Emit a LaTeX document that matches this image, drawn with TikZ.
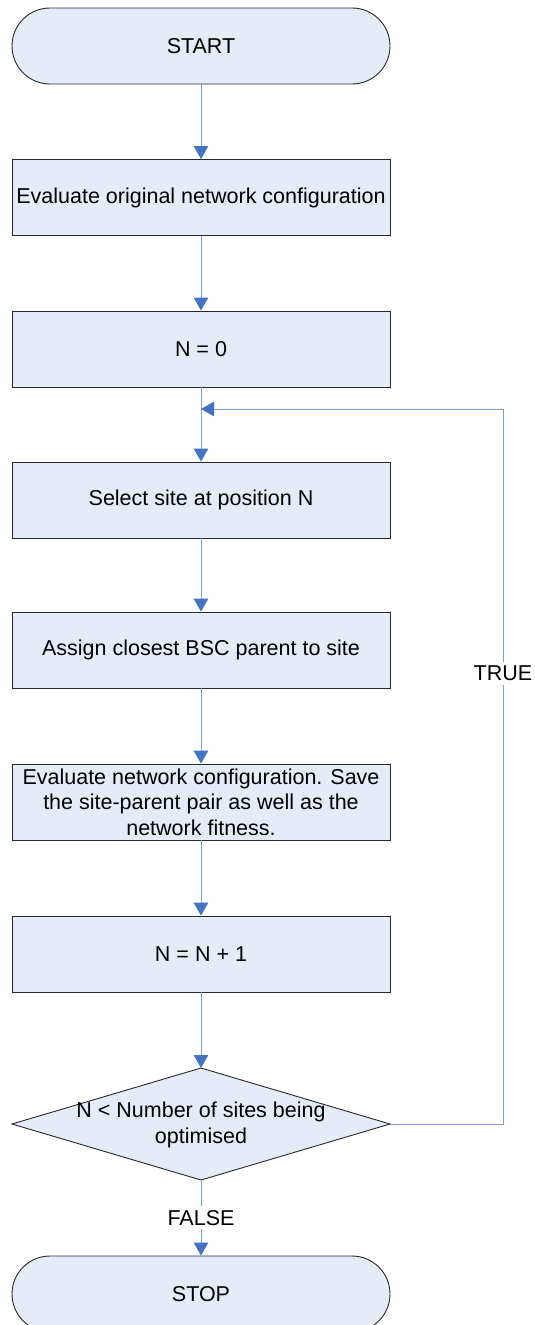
\documentclass[tikz,border=0pt]{standalone}
\usepackage{fontspec}
\setmainfont{Liberation Sans}
\usetikzlibrary{arrows.meta}
\definecolor{boxfill}{RGB}{230,236,247}
\definecolor{boxline}{RGB}{40,40,40}
\definecolor{flowline}{RGB}{125,158,212}
\definecolor{tipblue}{RGB}{68,114,196}
\tikzset{
  txt/.style={font=\fontsize{21.5}{25.5}\selectfont, text=black},
  procbox/.style={txt, draw=boxline, fill=boxfill, line width=0.9pt,
    minimum width=378pt, minimum height=76pt, inner sep=0pt, align=center},
  pill/.style={procbox, rounded corners=38pt},
  flow/.style={draw=flowline, line width=1pt,
    -{Triangle[width=14.5pt,length=13pt,color=tipblue]}},
  flowlabel/.style={txt, fill=white, inner sep=4pt}
}
\begin{document}
\begin{tikzpicture}[x=1pt,y=-1pt]
  \useasboundingbox (0,0) rectangle (535,1325);
  \clip (0,0) rectangle (535,1325);

  % process chain
  \node[pill]    (start)  at (201,46)  {START};
  \node[procbox] (evalo)  at (201,197.5) {Evaluate original network configuration};
  \node[procbox] (nzero)  at (201,349) {N = 0};
  \node[procbox] (select) at (201,500) {Select site at position N};
  \node[procbox] (assign) at (201,650) {Assign closest BSC parent to site};
  \node[procbox] (evaln)  at (201,802) {Evaluate network configuration. Save\\the site-parent pair as well as the\\network fitness.};
  \node[procbox] (incr)   at (201,954) {N = N + 1};

  % decision
  \coordinate (dtop)   at (201,1068);
  \coordinate (dright) at (390,1124);
  \coordinate (dbot)   at (201,1180);
  \coordinate (dleft)  at (12,1124);
  \fill[boxfill] (dtop) -- (dright) -- (dbot) -- (dleft) -- cycle;
  \draw[boxline, line width=0.9pt] (dtop) -- (dright) -- (dbot) -- (dleft) -- cycle;
  \node[txt, align=center] (cond) at (201,1125) {N < Number of sites being\\optimised};

  \node[pill] (stop) at (201,1294) {STOP};

  % connectors
  \coordinate (join)   at (201,409);
  \coordinate (loopc)  at (503,409);

  \draw[flow] (start) -- (evalo);
  \draw[flow] (evalo) -- (nzero);
  \draw[flow] (nzero) -- (select);
  \draw[flow] (select) -- (assign);
  \draw[flow] (assign) -- (evaln);
  \draw[flow] (evaln) -- (incr);
  \draw[flow] (incr) -- (dtop);
  \draw[flow] (dbot) -- node[flowlabel] {FALSE} (stop);
  \draw[flow] (dright) -| node[flowlabel, pos=0.815] {TRUE} (loopc) -- (join);
\end{tikzpicture}
\end{document}
